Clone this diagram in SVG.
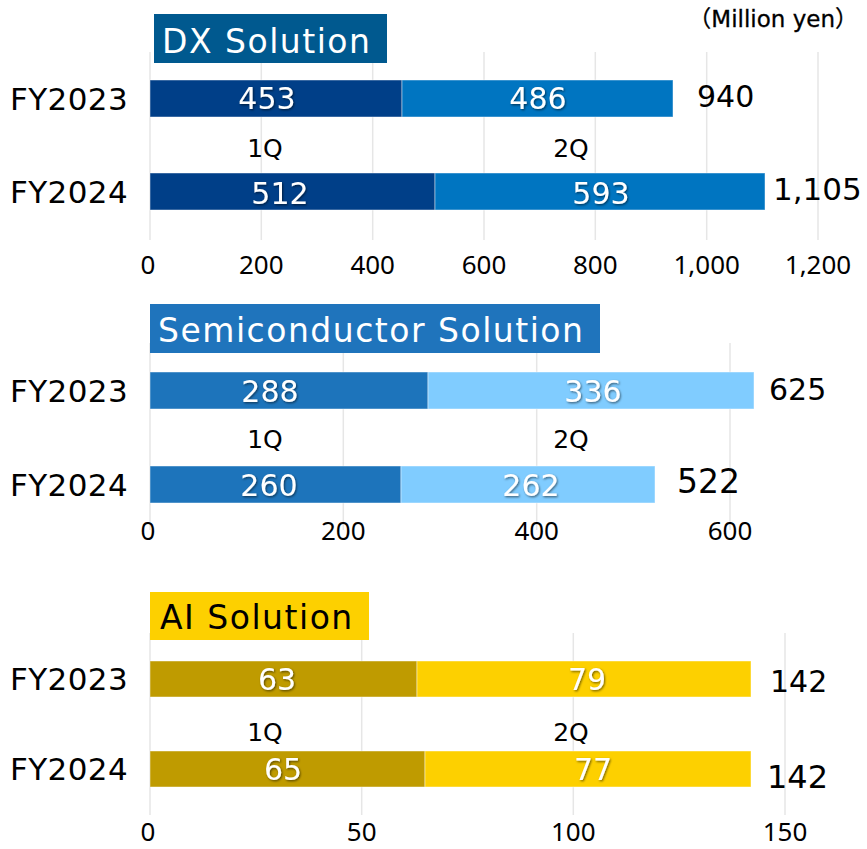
<svg xmlns="http://www.w3.org/2000/svg" width="867" height="849" viewBox="0 0 867 849">
<defs>
<style>
.grid{stroke:#e6e6e6;stroke-width:1.5}
.bar{stroke:#ffffff;stroke-opacity:0.45;stroke-width:1}
.lbl{font-family:"DejaVu Sans","Noto Sans",sans-serif;fill:#000}
.fy{font-size:31px;letter-spacing:0.4px}
.q{font-size:25px;text-anchor:middle}
.val{font-family:"DejaVu Sans","Noto Sans",sans-serif;font-size:30px;fill:#fff;text-anchor:middle;filter:url(#sh)}
.tot{font-size:30px}
.tot2{font-size:32px}
.ax{font-family:"Noto Sans","DejaVu Sans",sans-serif;font-size:26px;fill:#000;text-anchor:middle}
.ttl{font-family:"DejaVu Sans","Noto Sans",sans-serif;font-size:33px;letter-spacing:1.5px}
.cjk{font-family:"Noto Sans CJK JP",sans-serif}
</style>
<filter id="sh" x="-20%" y="-20%" width="140%" height="140%">
<feDropShadow dx="1" dy="1.2" stdDeviation="0.9" flood-color="#000" flood-opacity="0.55"/>
</filter>
</defs>
<rect width="867" height="849" fill="#ffffff"/>
<text class="lbl" x="858" y="27" font-size="23" text-anchor="end" stroke="#000" stroke-width="0.3"><tspan class="cjk">（</tspan>Million yen<tspan class="cjk">）</tspan></text>

<g id="chart-dx">
<g id="dx-grid">
<line class="grid" x1="150" y1="52" x2="150" y2="240"/>
<line class="grid" x1="261.3" y1="52" x2="261.3" y2="240"/>
<line class="grid" x1="372.7" y1="52" x2="372.7" y2="240"/>
<line class="grid" x1="484" y1="52" x2="484" y2="240"/>
<line class="grid" x1="595.3" y1="52" x2="595.3" y2="240"/>
<line class="grid" x1="706.7" y1="52" x2="706.7" y2="240"/>
<line class="grid" x1="818" y1="52" x2="818" y2="240"/>
</g>
<g id="dx-title">
<rect x="154" y="14" width="233" height="49" fill="#00598f"/>
<text class="ttl" x="162" y="53" fill="#ffffff">DX Solution</text>
</g>
<g id="dx-fy2023">
<rect class="bar" x="150" y="80" width="252" height="37" fill="#003f88"/>
<rect class="bar" x="402" y="80" width="271" height="37" fill="#0075c1"/>
<text class="val" x="267" y="109">453</text>
<text class="val" x="538" y="109">486</text>
<text class="lbl fy" x="10" y="110">FY2023</text>
<text class="lbl tot" x="697" y="107">940</text>
</g>
<g id="dx-q">
<text class="lbl q" x="265" y="157">1Q</text>
<text class="lbl q" x="571" y="157">2Q</text>
</g>
<g id="dx-fy2024">
<rect class="bar" x="150" y="173" width="285" height="37" fill="#003f88"/>
<rect class="bar" x="435" y="173" width="330" height="37" fill="#0075c1"/>
<text class="val" x="280" y="204">512</text>
<text class="val" x="601" y="204">593</text>
<text class="lbl fy" x="10" y="203">FY2024</text>
<text class="lbl" x="773" y="200" font-size="31">1,105</text>
</g>
<g id="dx-axis">
<text class="ax" x="148" y="274">0</text>
<text class="ax" x="261.3" y="274">200</text>
<text class="ax" x="372.7" y="274">400</text>
<text class="ax" x="484" y="274">600</text>
<text class="ax" x="595.3" y="274">800</text>
<text class="ax" x="706.7" y="274">1,000</text>
<text class="ax" x="818" y="274">1,200</text>
</g>
</g>

<g id="chart-semi">
<g id="semi-grid">
<line class="grid" x1="150" y1="343" x2="150" y2="530"/>
<line class="grid" x1="343.3" y1="343" x2="343.3" y2="530"/>
<line class="grid" x1="536.7" y1="343" x2="536.7" y2="530"/>
<line class="grid" x1="730" y1="343" x2="730" y2="530"/>
</g>
<g id="semi-title">
<rect x="150" y="304" width="450" height="49" fill="#1f74bc"/>
<text class="ttl" x="158" y="342" fill="#ffffff">Semiconductor Solution</text>
</g>
<g id="semi-fy2023">
<rect class="bar" x="150" y="372" width="278" height="37" fill="#1d74bb"/>
<rect class="bar" x="428" y="372" width="326" height="37" fill="#80ccff"/>
<text class="val" x="270" y="402">288</text>
<text class="val" x="593" y="402">336</text>
<text class="lbl fy" x="10" y="402">FY2023</text>
<text class="lbl tot" x="769" y="400">625</text>
</g>
<g id="semi-q">
<text class="lbl q" x="265" y="448">1Q</text>
<text class="lbl q" x="571" y="448">2Q</text>
</g>
<g id="semi-fy2024">
<rect class="bar" x="150" y="466" width="251" height="37" fill="#1d74bb"/>
<rect class="bar" x="401" y="466" width="254" height="37" fill="#80ccff"/>
<text class="val" x="269" y="496">260</text>
<text class="val" x="531" y="496">262</text>
<text class="lbl fy" x="10" y="496">FY2024</text>
<text class="lbl" x="677" y="493" font-size="33">522</text>
</g>
<g id="semi-axis">
<text class="ax" x="148" y="540">0</text>
<text class="ax" x="343.3" y="540">200</text>
<text class="ax" x="536.7" y="540">400</text>
<text class="ax" x="730" y="540">600</text>
</g>
</g>

<g id="chart-ai">
<g id="ai-grid">
<line class="grid" x1="150" y1="633" x2="150" y2="815"/>
<line class="grid" x1="361.7" y1="633" x2="361.7" y2="815"/>
<line class="grid" x1="573.3" y1="633" x2="573.3" y2="815"/>
<line class="grid" x1="785" y1="633" x2="785" y2="815"/>
</g>
<g id="ai-title">
<rect x="150" y="592" width="219" height="48" fill="#fdd000"/>
<text class="ttl" x="160" y="629" fill="#000000">AI Solution</text>
</g>
<g id="ai-fy2023">
<rect class="bar" x="150" y="661" width="267" height="36" fill="#bf9b00"/>
<rect class="bar" x="417" y="661" width="334" height="36" fill="#fdd000"/>
<text class="val" x="277" y="690">63</text>
<text class="val" x="587" y="690">79</text>
<text class="lbl fy" x="10" y="690">FY2023</text>
<text class="lbl tot" x="770" y="692">142</text>
</g>
<g id="ai-q">
<text class="lbl q" x="265" y="741">1Q</text>
<text class="lbl q" x="571" y="741">2Q</text>
</g>
<g id="ai-fy2024">
<rect class="bar" x="150" y="751" width="275" height="36" fill="#bf9b00"/>
<rect class="bar" x="425" y="751" width="326" height="36" fill="#fdd000"/>
<text class="val" x="283" y="780">65</text>
<text class="val" x="593" y="780">77</text>
<text class="lbl fy" x="10" y="780">FY2024</text>
<text class="lbl tot2" x="767" y="788">142</text>
</g>
<g id="ai-axis">
<text class="ax" x="148" y="841">0</text>
<text class="ax" x="361.7" y="841">50</text>
<text class="ax" x="573.3" y="841">100</text>
<text class="ax" x="785" y="841">150</text>
</g>
</g>
</svg>
